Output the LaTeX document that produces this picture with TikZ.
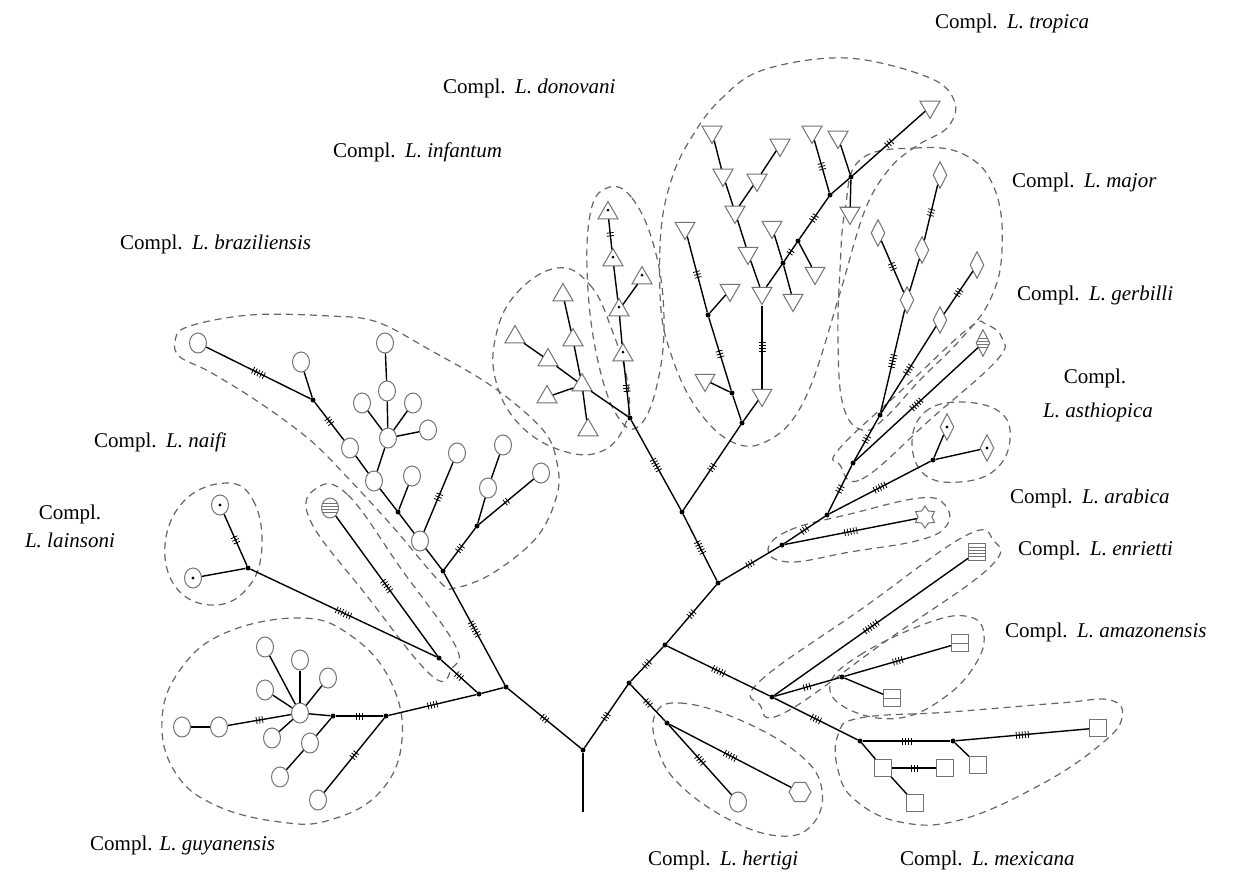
\documentclass[tikz,border=0pt]{standalone}
\usepackage{fontspec}
\setmainfont{Liberation Serif}
\usetikzlibrary{shapes.geometric,decorations.markings}
\newcommand{\complab}[1]{Compl.\hspace{0.45em}\textit{#1}}
\begin{document}
\begin{tikzpicture}[x=1pt,y=-1pt,
  edge/.style={line width=1.4pt,black},
  jd/.style={circle,fill=black,inner sep=0pt,minimum size=5pt},
  sym/.style={draw=black!55,line width=1pt,fill=white,inner sep=0pt},
  cir/.style={sym,ellipse,minimum width=17pt,minimum height=20pt},
  tri/.style={sym,regular polygon,regular polygon sides=3,minimum size=23pt},
  itri/.style={tri,shape border rotate=180},
  dia/.style={sym,diamond,aspect=0.5,minimum width=14pt,minimum height=27pt},
  sq/.style={sym,rectangle,minimum size=17pt},
  dotc/.style={path picture={\fill[black] (path picture bounding box.center) circle (1.6pt);}},
  stripes/.style={path picture={\foreach \s in {-4.5,-1.5,1.5,4.5}{\draw[black!55,line width=0.7pt] ([yshift=\s pt]path picture bounding box.west) -- ([yshift=\s pt]path picture bounding box.east);}}},
  split/.style={path picture={\draw[black!55,line width=0.8pt] (path picture bounding box.west) -- (path picture bounding box.east);}},
  grp/.style={draw=black!60,line width=1.2pt,dash pattern=on 7pt off 5pt},
  lab/.style={font=\fontsize{21}{24}\selectfont,anchor=west,inner sep=0pt},
  labc/.style={font=\fontsize{21}{24}\selectfont,inner sep=0pt},
  tk/.style={postaction={decorate,decoration={markings,mark=at position 0.5 with {\foreach \tkn in {1,...,#1}{\draw[line width=0.8pt] ({(\tkn-(#1+1)/2)*3},-3.5pt) -- ++(0,7pt);}}}}},
  tk/.default=3]
\fill[white] (0,0) rectangle (1235,872);
\useasboundingbox (0,0) rectangle (1235,872);

% ---------- dashed group outlines ----------
\draw[grp] plot[smooth cycle,tension=0.7] coordinates {(227,483) (253,500) (262,545) (250,585) (217,605) (178,590) (165,545) (185,500)};
\draw[grp] plot[smooth cycle,tension=0.7] coordinates {(317,488) (348,495) (402,570) (455,645) (452,668) (432,676) (367,596) (310,520)};
\draw[grp] plot[smooth cycle,tension=0.7] coordinates {(300,618) (350,635) (390,680) (402,740) (380,792) (330,820) (280,822) (215,805) (175,772) (162,720) (180,670) (225,633)};
\draw[grp] plot[smooth cycle,tension=0.6] coordinates {(187,327) (250,315) (330,316) (377,322) (430,350) (493,387) (543,430) (557,463) (557,495) (537,537) (493,573) (455,588) (440,582) (393,527) (347,477) (310,440) (260,403) (210,372) (180,357) (175,342)};
\draw[grp] plot[smooth cycle,tension=0.7] coordinates {(557,268) (590,285) (612,330) (628,385) (625,425) (600,452) (560,450) (520,425) (497,385) (495,340) (515,295)};
\draw[grp] plot[smooth cycle,tension=0.7] coordinates {(607,188) (632,198) (655,250) (664,320) (657,385) (640,425) (620,420) (600,370) (588,290) (590,215)};
\draw[grp] plot[smooth cycle,tension=0.6] coordinates {(693,135) (720,100) (763,70) (847,58) (930,78) (955,103) (947,128) (918,145) (890,168) (865,210) (840,293) (813,380) (790,423) (763,443) (740,445) (715,430) (690,398) (672,357) (661,310) (661,230) (673,175)};
\draw[grp] plot[smooth cycle,tension=0.7] coordinates {(860,160) (915,148) (965,155) (995,190) (1002,250) (990,300) (960,340) (920,380) (885,418) (862,430) (843,405) (838,340) (840,270) (845,210)};
\draw[grp] plot[smooth cycle,tension=0.7] coordinates {(840,465) (862,479) (932,418) (997,360) (1002,338) (987,325) (969,328) (904,388) (839,449)};
\draw[grp] plot[smooth cycle,tension=0.7] coordinates {(912,443) (925,412) (960,402) (1000,412) (1010,440) (995,470) (960,482) (925,475)};
\draw[grp] plot[smooth cycle,tension=0.7] coordinates {(768,550) (790,530) (850,514) (920,498) (945,505) (947,525) (920,540) (850,552) (790,562)};
\draw[grp] plot[smooth cycle,tension=0.7] coordinates {(760,705) (760,681) (863,608) (965,536) (993,540) (989,568) (886,641) (784,713)};
\draw[grp] plot[smooth cycle,tension=0.7] coordinates {(830,685) (860,655) (930,622) (970,617) (984,635) (975,665) (945,697) (900,718) (850,710)};
\draw[grp] plot[smooth cycle,tension=0.7] coordinates {(838,735) (860,718) (950,712) (1060,703) (1110,700) (1122,718) (1100,745) (1040,785) (960,820) (900,822) (855,800) (838,770)};
\draw[grp] plot[smooth cycle,tension=0.7] coordinates {(655,715) (680,703) (740,720) (800,755) (822,790) (812,825) (780,836) (730,820) (680,785) (658,750)};

% ---------- root and left ----------
\coordinate (rb) at (583,812);
\node[jd] (J0) at (583,750) {};
\node[jd] (JL) at (506,687) {};
\node[jd] (JR) at (629,683) {};
\node[jd] (G1) at (479,694) {};
\node[jd] (GJ) at (386,716) {};
\node[jd] (GJ2) at (333,716) {};
\node[cir] (Gh) at (300,713) {};
\node[cir] (g1) at (219,727) {};
\node[cir] (g0) at (182,727) {};
\node[cir] (g2) at (265,647) {};
\node[cir] (g3) at (300,660) {};
\node[cir] (g4) at (328,678) {};
\node[cir] (g5) at (265,690) {};
\node[cir] (g6) at (272,738) {};
\node[cir] (g7) at (310,743) {};
\node[cir] (g8) at (280,777) {};
\node[cir] (g9) at (318,800) {};
\node[jd] (NJ) at (439,658) {};
\node[cir,stripes] (n1) at (330,508) {};
\node[jd] (LJ) at (248,568) {};
\node[cir,dotc] (l1) at (220,505) {};
\node[cir,dotc] (l2) at (193,578) {};
% braziliensis
\node[jd] (B1) at (443,571) {};
\node[jd] (B2) at (477,526) {};
\node[cir] (b0) at (420,541) {};
\node[cir] (b1) at (541,473) {};
\node[cir] (b2) at (488,488) {};
\node[cir] (b3) at (503,445) {};
\node[cir] (b4) at (457,453) {};
\node[jd] (B3) at (398,512) {};
\node[cir] (b5) at (412,476) {};
\node[cir] (b6) at (374,481) {};
\node[cir] (b7) at (350,448) {};
\node[cir] (bh) at (388,438) {};
\node[cir] (b8) at (362,403) {};
\node[cir] (b9) at (387,391) {};
\node[cir] (b10) at (385,343) {};
\node[cir] (b11) at (413,403) {};
\node[cir] (b12) at (428,430) {};
\node[jd] (B4) at (313,400) {};
\node[cir] (b13) at (301,362) {};
\node[cir] (b14) at (198,343) {};

% ---------- right ----------
\node[jd] (R1) at (665,645) {};
\node[jd] (H) at (667,723) {};
\node[cir] (h1) at (738,802) {};
\node[sym,regular polygon,regular polygon sides=6,minimum size=22pt] (h2) at (800,792) {};
\node[jd] (R2) at (718,583) {};
\node[jd] (M0) at (772,697) {};
\node[jd] (A) at (782,545) {};
\node[jd] (T0) at (682,512) {};
\node[jd] (DI) at (630,418) {};
\node[jd] (TJ) at (742,423) {};
% tropica
\node[itri] (t1) at (762,395) {};
\node[jd] (TJ2) at (732,393) {};
\node[itri] (t2) at (705,380) {};
\node[jd] (TJ3) at (708,315) {};
\node[itri] (t3) at (730,290) {};
\node[itri] (t4) at (685,228) {};
\node[itri] (t5) at (762,293) {};
\node[itri] (t6) at (748,253) {};
\node[itri] (t7) at (735,212) {};
\node[itri] (t8) at (723,175) {};
\node[itri] (t9) at (712,132) {};
\node[itri] (t10) at (757,180) {};
\node[itri] (t11) at (780,145) {};
\node[jd] (TK1) at (783,263) {};
\node[itri] (t12) at (772,227) {};
\node[itri] (t13) at (793,300) {};
\node[jd] (TK2) at (798,241) {};
\node[itri] (t14) at (815,273) {};
\node[jd] (TK3) at (830,195) {};
\node[itri] (t15) at (812,132) {};
\node[jd] (TK4) at (851,177) {};
\node[itri] (t16) at (838,137) {};
\node[itri] (t17) at (850,213) {};
\node[itri] (t18) at (930,107) {};
% donovani / infantum
\node[tri,dotc] (d1) at (623,355) {};
\node[tri,dotc] (d2) at (619,310) {};
\node[tri,dotc] (d3) at (642,278) {};
\node[tri,dotc] (d4) at (613,260) {};
\node[tri,dotc] (d5) at (608,213) {};
\node[tri] (i0) at (582,385) {};
\node[tri] (i1) at (588,430) {};
\node[tri] (i2) at (573,340) {};
\node[tri] (i3) at (563,295) {};
\node[tri] (i4) at (547,397) {};
\node[tri] (i5) at (548,360) {};
\node[tri] (i6) at (515,337) {};
% major / gerbilli / aethiopica / arabica
\node[jd] (AB) at (827,515) {};
\node[sym,star,star points=6,star point ratio=1.6,minimum size=22pt] (st) at (925,517) {};
\node[jd] (AE) at (933,460) {};
\node[dia,dotc] (ae1) at (947,427) {};
\node[dia,dotc] (ae2) at (987,448) {};
\node[jd] (C) at (853,463) {};
\node[dia,stripes] (gb) at (983,343) {};
\node[jd] (D) at (880,415) {};
\node[dia] (mh) at (907,300) {};
\node[dia] (m1) at (878,233) {};
\node[dia] (m2) at (922,250) {};
\node[dia] (m3) at (940,175) {};
\node[dia] (m4) at (940,320) {};
\node[dia] (m5) at (977,265) {};
% enriettii / amazonensis / mexicana
\node[sq,stripes] (en) at (977,552) {};
\node[jd] (AM) at (842,677) {};
\node[sq,split] (am1) at (960,643) {};
\node[sq,split] (am2) at (892,698) {};
\node[jd] (MX) at (860,741) {};
\node[jd] (MX2) at (953,741) {};
\node[sq] (mx1) at (1098,728) {};
\node[sq] (mx2) at (978,765) {};
\node[sq] (mx3) at (883,768) {};
\node[sq] (mx4) at (945,768) {};
\node[sq] (mx5) at (915,803) {};

% ---------- connectors ----------
\foreach \a/\b in {rb/J0, JL/G1, GJ2/Gh, g1/g0, Gh/g2, Gh/g3, Gh/g4, Gh/g5, Gh/g6, GJ2/g7, g7/g8, LJ/l2,
  B1/b0, B2/b2, b2/b3, b0/B3, B3/b5, B3/b6, b6/b7, b6/bh, bh/b8, bh/b9, bh/b11, bh/b12, b9/b10, B4/b13,
  TJ/t1, TJ/TJ2, TJ2/t2, TJ3/t3, t5/t6, t6/t7, t7/t8, t8/t9, t7/t10, t10/t11, t5/TK1, TK1/t12, TK1/t13, TK2/t14, TK3/TK4, TK4/t16, TK4/t17,
  d1/d2, d2/d3, d2/d4, DI/i0, i0/i1, i0/i2, i2/i3, i0/i4, i0/i5, i5/i6,
  AE/ae1, AE/ae2, mh/m2, AM/am2, MX2/mx2, MX/mx3, mx3/mx5}
  \draw[edge] (\a) -- (\b);
\foreach \a/\b/\n in {J0/JL/3, J0/JR/3, G1/GJ/4, GJ/GJ2/3, Gh/g1/3, GJ/g9/3, G1/NJ/3, NJ/n1/5, NJ/LJ/6, LJ/l1/3,
  JL/B1/6, B1/B2/3, B2/b1/2, b0/b4/3, b7/B4/3, B4/b14/5,
  JR/R1/3, JR/H/3, H/h1/4, H/h2/5, R1/R2/3, R1/M0/5, R2/A/3, R2/T0/5, T0/DI/5, T0/TJ/3,
  TJ2/TJ3/3, TJ3/t4/3, t1/t5/4, TK1/TK2/2, TK2/TK3/3, TK3/t15/3, TK4/t18/3,
  DI/d1/3, d4/d5/2,
  A/st/5, A/AB/3, AB/AE/5, AB/C/3, C/gb/5, C/D/3, D/mh/5, mh/m1/3, m2/m3/3, D/m4/4, m4/m5/3,
  M0/en/6, M0/AM/3, AM/am1/4, M0/MX/4, MX/MX2/4, MX2/mx1/5, mx3/mx4/3}
  \draw[edge,tk=\n] (\a) -- (\b);

% ---------- labels ----------
\node[lab] (Ltro) at (935,23) {\complab{L. tropica}};
\node[lab] (Ldon) at (443,88) {\complab{L. donovani}};
\node[lab] (Linf) at (333,152) {\complab{L. infantum}};
\node[lab] (Lbra) at (120,244) {\complab{L. braziliensis}};
\node[lab] (Lmaj) at (1012,182) {\complab{L. major}};
\node[lab] (Lger) at (1017,295) {\complab{L. gerbilli}};
\node[labc] (Lae1) at (1095,378) {Compl.};
\node[labc] (Lae2) at (1098,412) {\textit{L. asthiopica}};
\node[lab] (Lara) at (1010,498) {\complab{L. arabica}};
\node[lab] (Lenr) at (1018,550) {\complab{L. enrietti}};
\node[lab] (Lama) at (1005,632) {\complab{L. amazonensis}};
\node[lab] (Lnai) at (94,442) {\complab{L. naifi}};
\node[labc] (Llai1) at (70,514) {Compl.};
\node[labc] (Llai2) at (70,540) {\textit{L. lainsoni}};
\node[lab] (Lguy) at (90,845) {Compl. \textit{L. guyanensis}};
\node[lab] (Lher) at (648,860) {\complab{L. hertigi}};
\node[lab] (Lmex) at (900,860) {\complab{L. mexicana}};
\end{tikzpicture}
\end{document}
